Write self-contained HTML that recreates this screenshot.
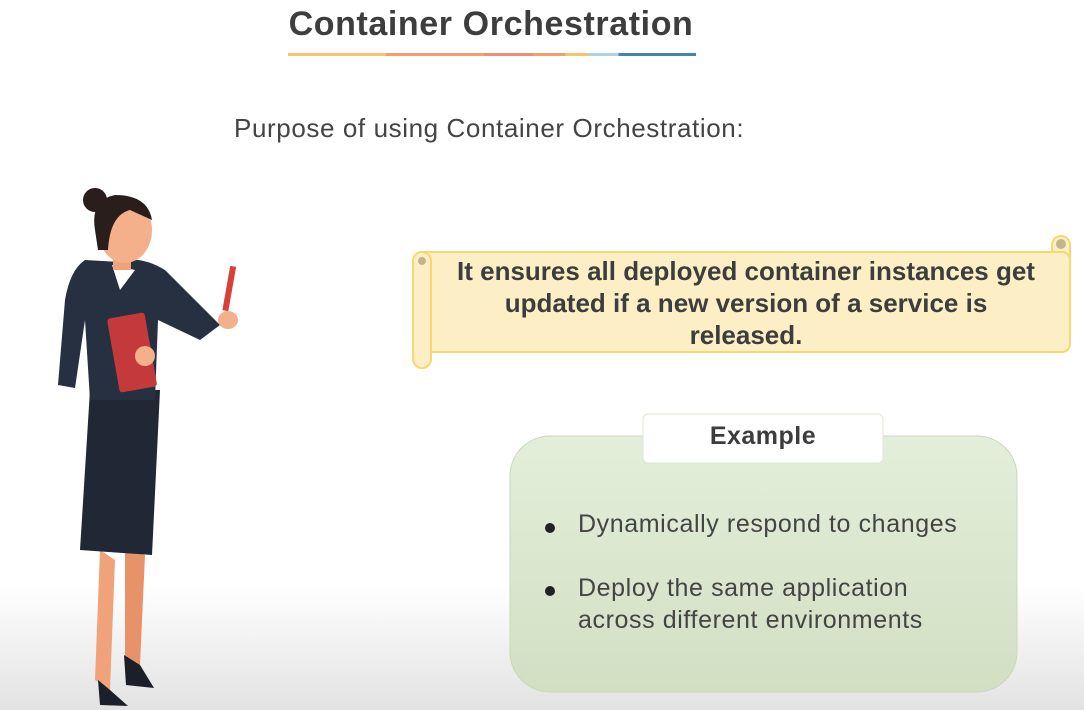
<!DOCTYPE html>
<html><head><meta charset="utf-8"><style>
body{margin:0;width:1084px;height:710px;overflow:hidden;position:relative;font-family:"Liberation Sans",sans-serif;background:linear-gradient(#fff 0,#fff 585px,#e2e2e2 710px);}
.a{position:absolute}
</style></head><body>
<div class="a" style="left:276px;top:5px;width:430px;text-align:center;font-size:34px;font-weight:bold;color:#3d3d3d;letter-spacing:0.6px">Container Orchestration</div>
<div class="a" style="left:288px;top:53px;width:408px;height:3px;background:linear-gradient(90deg,#f6c46f 0,#f6c46f 24%,#f2a068 24%,#f2a068 48%,#ec8f76 48%,#ec8f76 60%,#f2a068 60%,#f2a068 68%,#f6c46f 68%,#f6c46f 74%,#a8d4ea 74%,#a8d4ea 81%,#3d86b8 81%)"></div>
<div class="a" style="left:234px;top:113px;font-size:26px;color:#444;letter-spacing:0.6px">Purpose of using Container Orchestration:</div>

<svg class="a" style="left:0;top:0" width="1084" height="710">
 <rect x="1052" y="236" width="18" height="30" rx="9" fill="#fdefc5" stroke="#f9d770" stroke-width="2"/>
 <rect x="415" y="252" width="655" height="100" rx="8" fill="#fdefc5" stroke="#f9d770" stroke-width="2"/>
 <rect x="413" y="252" width="18" height="116" rx="9" fill="#fdefc5" stroke="#f9d770" stroke-width="2"/>
 <circle cx="422" cy="261" r="4" fill="#c4b48c"/><circle cx="1061" cy="244" r="5" fill="#c4b48c"/>
 <defs><linearGradient id="g" x1="0" y1="0" x2="0" y2="1"><stop offset="0" stop-color="#e3efda"/><stop offset="1" stop-color="#d2dfc3"/></linearGradient></defs>
 <rect x="510" y="436" width="507" height="256" rx="40" fill="url(#g)" stroke="#c8d8b8"/>
 <rect x="643" y="414" width="240" height="49" rx="5" fill="#fff" stroke="#dde8d4"/>
 <circle cx="550" cy="528" r="5" fill="#222"/><circle cx="550" cy="591" r="5" fill="#222"/>
 <g>
  <path d="M100 550 L95 680 L110 690 L115 560Z" fill="#f0a27a"/>
  <path d="M125 550 L125 660 L140 665 L145 555Z" fill="#e8926a"/>
  <path d="M98 680 L100 705 L128 706 L110 690Z" fill="#1b1f2a"/>
  <path d="M124 655 L126 685 L154 688 L140 665Z" fill="#1b1f2a"/>
  <path d="M90 390 L80 550 L152 555 L160 390Z" fill="#202836"/>
  <path d="M85 260 Q70 270 65 300 L58 385 L75 388 L85 320 L90 400 L155 400 L158 320 L200 340 L220 325 L165 270 Q140 255 120 262Z" fill="#263040"/>
  <path d="M112 265 L120 290 L135 270Z" fill="#fff"/>
  <rect x="113" y="240" width="18" height="30" fill="#f0a27a"/>
  <ellipse cx="125" cy="230" rx="27" ry="33" fill="#f4b08a"/>
  <path d="M95 230 Q90 200 115 195 Q148 195 152 220 L130 210 Q110 215 108 250 L98 250Z" fill="#2a1e1c"/>
  <circle cx="95" cy="200" r="12" fill="#2a1e1c"/>
  <rect x="113" y="315" width="38" height="75" rx="3" fill="#c43a3a" transform="rotate(-10 132 352)"/>
  <rect x="226" y="266" width="6" height="45" fill="#d8403a" transform="rotate(10 229 290)"/>
  <ellipse cx="228" cy="320" rx="10" ry="9" fill="#f4b08a"/>
  <ellipse cx="145" cy="356" rx="10" ry="10" fill="#f4b08a"/>
 </g>
</svg>

<div class="a" style="left:431px;top:255px;width:630px;text-align:center;font-size:26px;font-weight:bold;color:#3d3d3d;line-height:32px">It ensures all deployed container instances get<br>updated if a new version of a service is<br>released.</div>
<div class="a" style="left:643px;top:422px;width:240px;text-align:center;font-size:25px;font-weight:bold;color:#3d3d3d;letter-spacing:0.5px">Example</div>
<div class="a" style="left:578px;top:510px;font-size:25px;color:#444;letter-spacing:0.6px">Dynamically respond to changes</div>
<div class="a" style="left:578px;top:572px;font-size:25px;color:#444;line-height:32px;letter-spacing:0.6px">Deploy the same application<br>across different environments</div>
</body></html>
